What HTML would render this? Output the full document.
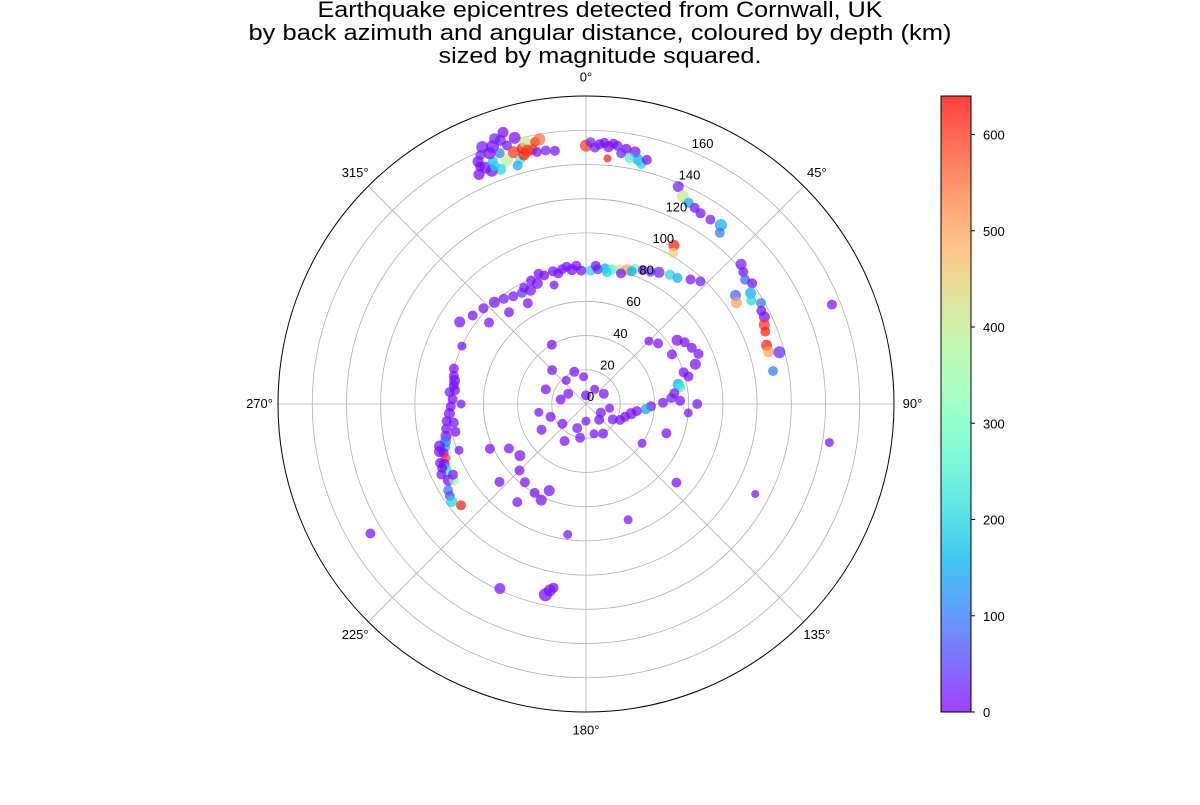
<!DOCTYPE html>
<html><head><meta charset="utf-8"><style>
body{margin:0;background:#fff;}
svg text{font-family:"Liberation Sans","DejaVu Sans",sans-serif;}
</style></head><body>
<svg id="chart" width="1200" height="800" xmlns="http://www.w3.org/2000/svg">
<g font-size="22" text-anchor="middle" fill="#000">
<text x="600" y="17" textLength="565" lengthAdjust="spacingAndGlyphs">Earthquake epicentres detected from Cornwall, UK</text>
<text x="600" y="40" textLength="703" lengthAdjust="spacingAndGlyphs">by back azimuth and angular distance, coloured by depth (km)</text>
<text x="600" y="63" textLength="323" lengthAdjust="spacingAndGlyphs">sized by magnitude squared.</text>
</g>
<g id="grid"></g>
<g id="points"></g>
<g id="labels"></g>
<g id="cbar"></g>
</svg>
<script>
// [azimuth deg, distance deg, depth km, magnitude]
const quakes = [
[338,162,20,6],[340,160,10,6.5],[341,164,30,5.5],[343,158,15,5],[345,161,5,6],[336,155,10,5.5],[337,150,25,6],[339,152,180,5],[342,150,380,6],[344,153,600,6],[346,154,620,5.5],[348,152,580,5.5],[347,157,400,6],[349,156,610,5],[345,148,250,5],[340,146,200,5.5],[338,147,10,6],[335,148,5,5.5],[351,150,20,5],[353,149,10,5],[343,166,5,5.5],[344,145,150,5],[350,157,550,6],[341,155,100,5],
[339,157,10,6],[342,162,20,5.5],[336,152,10,5],[337,158,30,5],[339,149,200,5],[346,150,620,5.5],[347,152,600,6],[349,150,10,5],
[0,151,600,6],[1,153,30,5],[3,152,10,5],[5,151,10,5.5],[7,152,20,5],[9,151,5,5],[11,150,10,5.5],[12,146,150,5.5],[13,144,200,5],[10,146,250,5],[14,147,10,5],[8,148,30,5],[5,144,620,4],[4,153,10,5],[6,153,10,5],[2,150,20,5],
[23,138,20,5.5],[25,134,400,6],[27,132,150,5],[29,131,10,5],[31,130,10,5],[34,130,20,5],[37,131,150,6],[38,127,100,5],[29,106,620,5.5],[30,102,450,5],
[48,122,20,5.5],[50,120,10,5],[52,118,80,5],[54,120,10,5],[56,116,150,5.5],[58,114,200,5],[60,118,100,5],[62,116,10,5],[64,116,5,5.5],[66,114,600,5.5],[68,113,620,5],[72,111,620,5.5],[74,111,500,5.5],[75,117,30,6],[80,111,100,5],[54,108,80,5.5],[56,106,500,5.5],
[303,88,10,5.5],[308,84,10,5],[313,82,10,5],[318,80,10,5.5],[322,78,20,5],[326,76,10,5],[330,75,40,5],[334,74,10,5.5],[338,76,10,5.5],[342,79,10,5],[346,80,10,5],[350,80,20,5],[354,79,10,5.5],[358,78,10,5],[2,78,200,5],[5,79,30,5],[8,80,150,5],[11,80,250,5],[14,81,400,5],[17,82,500,5.5],[20,84,300,5],[23,85,10,5],[26,86,50,5],[29,88,20,5.5],[33,90,200,5],[36,91,150,5],[40,95,10,5],[43,98,20,5],[330,68,10,5],[320,70,10,5],[345,72,10,4.5],[310,74,10,5],
[352,81,10,5],[356,81,10,5],[4,81,10,5],[9,78,200,5],[15,79,10,5],[19,82,150,5],[336,79,10,5],[332,77,10,5],[340,81,10,5],[348,78,10,5],
[285,80,10,5],[282,79,10,5],[280,78,10,5.5],[278,78,10,5],[275,80,20,5],[272,78,10,5],[269,79,10,5],[266,80,10,5.5],[263,82,10,5],[260,83,10,5],[257,84,10,5.5],[255,85,100,5.5],[253,86,150,5],[251,88,10,5],[249,88,600,5],[247,90,10,5.5],[245,90,200,5],[243,91,300,5],[241,92,10,5.5],[238,95,100,5],[236,96,50,5],[234,97,200,5.5],[231,94,620,5],[240,89,350,5],[258,78,10,5],[270,73,10,4.5],[250,79,10,4.5],[295,80,10,4.5],
[254,89,10,5.5],[252,90,10,5.5],[248,92,10,5],[246,92,10,5],[244,94,10,5],[242,88,10,5],[276,77,10,5],[262,78,10,5],
[55,65,10,5.5],[58,68,10,5],[62,70,10,5],[66,72,10,5],[70,68,10,5.5],[72,60,10,5],[75,62,10,5],[78,55,150,5.5],[80,56,250,5],[83,52,10,5],[86,50,20,5],[89,45,10,5],[92,38,10,5],[95,35,150,5],[98,30,10,5],[102,27,10,5.5],[108,24,10,5],[115,22,10,5],[120,18,10,5],[88,55,10,5],[60,58,10,5],[50,55,10,5],[45,52,10,4.5],[90,65,10,5],[95,60,10,4.5],
[0,5,10,5],[30,10,10,4.5],[60,12,10,5],[100,14,10,4.5],[140,12,10,5],[180,10,10,4.5],[200,15,10,5],[230,18,10,5],[250,22,10,5],[280,15,10,5],[300,12,10,5],[320,18,10,4.5],[340,20,10,5],[355,16,10,4.5],[210,25,10,5],[240,30,10,5],[260,28,10,4.5],[290,25,10,5],[315,28,10,5],[330,40,10,5],[150,20,10,5],[165,18,10,4.5],[120,10,10,5],[190,20,10,5],
[232,49,10,5.5],[225,55,10,5],[218,58,10,5],[210,60,10,5],[203,55,10,5.5],[240,52,10,5],[245,62,10,5],[228,68,10,5],[215,70,10,5],[205,62,10,5.5],
[191,111,20,6],[192,114,10,6.5],[190,109,10,5],[205,119,10,5.5],[188,77,10,4.5],
[68,155,10,5],[99,144,10,4.5],[239,147,10,5],[118,112,10,4],[160,72,10,4.5],[131,70,10,5],[110,50,10,5],[125,40,10,4.5]
];
const radialTicks = [0,20,40,60,80,100,120,140,160];
const angleTicks = [0,45,90,135,180,225,270,315];
const cbarTicks = [0,100,200,300,400,500,600];
const RMAX = 180, VMAX = 640;
const CX = 586, CY = 404, R = 308;
const NS = "http://www.w3.org/2000/svg";
function mk(tag, attrs, parent){const e=document.createElementNS(NS,tag);for(const k in attrs)e.setAttribute(k,attrs[k]);parent.appendChild(e);return e;}
function rs(d){return d/RMAX*R;}
function pos(az,d){const a=az*Math.PI/180;return [CX+rs(d)*Math.sin(a), CY-rs(d)*Math.cos(a)];}
function cmap(v){const x=Math.max(0,Math.min(1,v/VMAX));
 const r=Math.min(1,Math.abs(2*x-0.5)), g=Math.sin(Math.PI*x), b=Math.max(0,Math.cos(Math.PI/2*x));
 return `rgb(${Math.round(r*255)},${Math.round(g*255)},${Math.round(b*255)})`;}
const grid=document.getElementById('grid'), pts=document.getElementById('points'), lab=document.getElementById('labels'), cb=document.getElementById('cbar');
radialTicks.forEach(t=>{ if(t>0){const c=mk('circle',{cx:CX,cy:CY,r:rs(t),fill:'none',stroke:'#b0b0b0','stroke-width':0.8},grid);
 
 }});
angleTicks.forEach(a=>{const p=pos(a,RMAX);const l=mk('line',{x1:CX,y1:CY,x2:p[0],y2:p[1],stroke:'#b0b0b0','stroke-width':0.8},grid);
 
 });
const outer=mk('circle',{cx:CX,cy:CY,r:R,fill:'none',stroke:'#000','stroke-width':1},grid);


quakes.forEach(q=>{const p=pos(q[0],q[1]);
 const c=mk('circle',{cx:p[0].toFixed(1),cy:p[1].toFixed(1),r:(q[3]*1.0).toFixed(2),fill:cmap(q[2]),'fill-opacity':0.72},pts);
 
 });
angleTicks.forEach(a=>{const p=pos(a,RMAX*1.06);const t=mk('text',{x:p[0],y:p[1]+4,'font-size':13,'text-anchor':'middle'},lab);t.textContent=a+'°';
 
 });
radialTicks.forEach(r=>{const p=pos(22.5,r);const t=mk('text',{x:p[0]+1,y:p[1]-3,'font-size':13,'text-anchor':'start'},lab);t.textContent=r;
 
 });
// colorbar
const CBX=941, CBW=30, CBT=96, CBB=712;
const defs=mk('defs',{},cb);
const grad=mk('linearGradient',{id:'cg',x1:0,y1:1,x2:0,y2:0},defs);
for(let i=0;i<=20;i++){mk('stop',{offset:(i/20),'stop-color':cmap(i/20*VMAX),'stop-opacity':0.75},grad);}
const bar=mk('rect',{x:CBX,y:CBT,width:CBW,height:CBB-CBT,fill:'url(#cg)',stroke:'#000','stroke-width':1},cb);


cbarTicks.forEach(v=>{const y=CBB-(v/VMAX)*(CBB-CBT);
 mk('line',{x1:CBX+CBW,y1:y,x2:CBX+CBW+4,y2:y,stroke:'#000'},cb);
 const t=mk('text',{x:CBX+CBW+12,y:y+5,'font-size':13},cb);t.textContent=v;
 
 });
</script>
</body></html>
